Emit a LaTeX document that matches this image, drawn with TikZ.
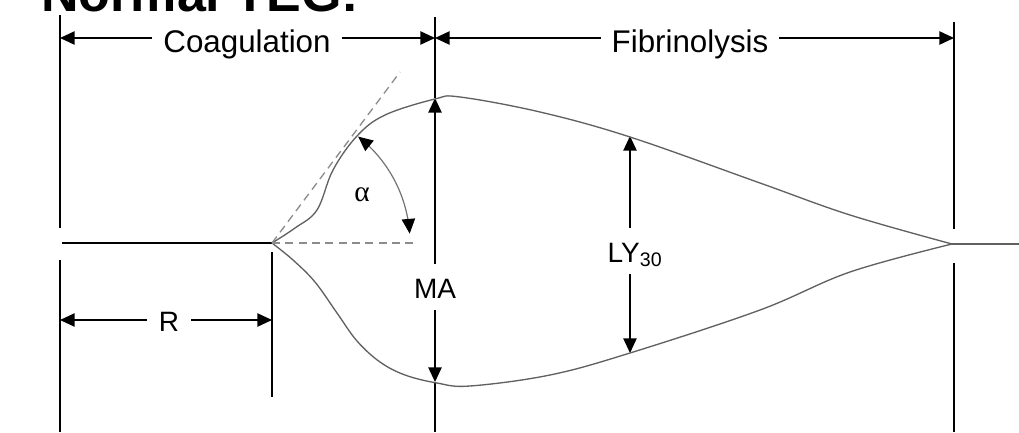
\documentclass[tikz,border=0pt]{standalone}
\usepackage{fontspec}
\setmainfont{Liberation Sans}
\newfontfamily\greekfont{Liberation Serif}
\usetikzlibrary{arrows.meta, calc}

\begin{document}
\begin{tikzpicture}[
    x=0.75pt, y=-0.75pt,
    >={Triangle[length=11pt, width=10pt]},
    font=\fontsize{21}{25}\selectfont,
    guide/.style={line width=1.1pt},
    dim/.style={guide, ->},
    trace/.style={line width=1pt, draw=black!62},
    helper/.style={line width=1pt, draw=black!45, dash pattern=on 6pt off 4pt},
    tag/.style={text height=17.5pt, text depth=0pt, inner xsep=9pt, inner ysep=8.5pt},
    phase/.style={tag, text height=21pt, inner xsep=8pt, font=\fontsize{23.5}{28}\selectfont}
]

\useasboundingbox (0,0) rectangle (1019,432);

\node[anchor=base west, inner sep=0pt, font=\bfseries\fontsize{39}{46}\selectfont] (title) at (41,12) {Normal TEG:};

\coordinate (L1) at (60,15);   \coordinate (L2) at (60,228);
\coordinate (L3) at (60,260);  \coordinate (L4) at (60,432);
\coordinate (M1) at (435,17);  \coordinate (M2) at (435,432);
\coordinate (E1) at (954,22);  \coordinate (E2) at (954,229);
\coordinate (E3) at (954,263); \coordinate (E4) at (954,432);
\coordinate (R1) at (272,252); \coordinate (R2) at (272,397);
\coordinate (B0) at (62,243);
\coordinate (O) at (272,243);
\coordinate (Z) at (952,244);
\coordinate (Tail) at (1019,244);
\coordinate (Top) at (435,98);
\coordinate (Bot) at (435,382);
\coordinate (LYt) at (630,136);
\coordinate (LYb) at (630,353);
\coordinate (T) at (400,72);
\coordinate (H) at (415,243);

\draw[guide] (L1) -- (L2) (L3) -- (L4);
\draw[guide] (E1) -- (E2) (E3) -- (E4);
\draw[guide] (R1) -- (R2);
\draw[guide] (M1) -- (Top) (Bot) -- (M2);
\draw[guide] (B0) -- (O);

\node[phase] (Coag) at (247,38) {Coagulation};
\node[phase] (Fib) at (690,38) {Fibrinolysis};
\node[tag] (R) at (169,320) {R};
\node[tag] (MA) at (435,287) {MA};
\node[tag] (LY) at (635,251) {LY\textsubscript{30}};
\node[font=\greekfont\fontsize{22}{26}\selectfont] (alpha) at (362,195) {α};

\draw[dim] (Coag) -- (Coag -| L1);
\draw[dim] (Coag) -- (Coag -| M1);
\draw[dim] (Fib) -- (Fib -| M1);
\draw[dim] (Fib) -- (Fib -| E1);
\draw[dim] (R) -- (R -| L3);
\draw[dim] (R) -- (R -| R1);
\draw[dim] (MA) -- (Top);
\draw[dim] (MA) -- (Bot);
\draw[dim] (LYt |- LY.north) -- (LYt);
\draw[dim] (LYt |- LY.south) -- (LYb);

\draw[trace] plot[smooth, tension=0.6] coordinates {(O) (295,228) (317,210) (333,170) (357,136)
    (385,115) (435,99) (460,97) (540,112) (630,137) (760,183) (850,215) (Z)};
\draw[trace] plot[smooth, tension=0.6] coordinates {(O) (293,260) (315,282) (337,313) (357,341)
    (380,362) (405,375) (437,383) (470,386) (550,375) (630,353) (760,310) (850,272) (Z)};
\draw[trace] (Z) -- (Tail);

\draw[helper] (O) -- (T);
\draw[helper] (O) -- (H);
\draw[line width=0.9pt, draw=black!55,
    {Triangle[length=11pt, width=10pt, color=black]}-{Triangle[length=11pt, width=10pt, color=black]}]
    plot[domain=-52:-4, samples=30] ({275+135*cos(\x)}, {243+135*sin(\x)});

\end{tikzpicture}
\end{document}
